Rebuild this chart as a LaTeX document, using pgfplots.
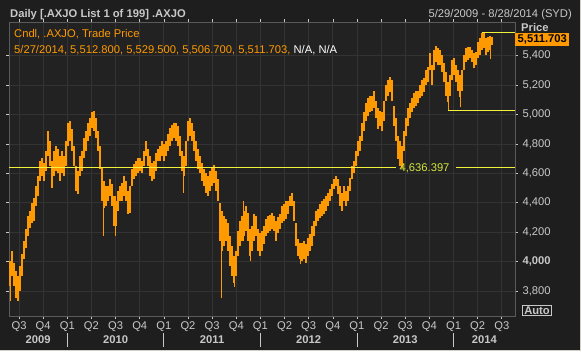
\documentclass[border=0pt]{standalone}
\usepackage{pgfplots}
\pgfplotsset{compat=1.18}
\usepackage{pgfplotstable}
\usepackage{fontspec}
\setmainfont{Liberation Sans}
\definecolor{bgout}{HTML}{1E1E1E}
\definecolor{bgplot}{HTML}{222222}
\definecolor{gridc}{HTML}{333333}
\definecolor{gridy}{HTML}{3E3E3E}
\definecolor{framec}{HTML}{5A5A5A}
\definecolor{candle}{HTML}{FF9900}
\definecolor{txt}{HTML}{C8C8C8}
\definecolor{hl}{HTML}{F2F23A}
\definecolor{hltext}{HTML}{D2E63C}
\definecolor{edge}{HTML}{D0D0C4}
\newcommand\f{\fontsize{11.2bp}{13bp}\selectfont}

\pgfplotstableread{
t lo hi
2009.406 3834 4005
2009.427 3902 4073
2009.448 3834 3991
2009.469 3752 3936
2009.489 3732 3902
2009.510 3800 3970
2009.531 3902 4052
2009.552 4018 4141
2009.572 4093 4223
2009.593 4175 4311
2009.614 4230 4345
2009.635 4264 4400
2009.655 4277 4434
2009.676 4379 4516
2009.697 4448 4584
2009.717 4550 4686
2009.738 4584 4707
2009.759 4550 4673
2009.780 4618 4754
2009.800 4720 4891
2009.821 4652 4823
2009.842 4502 4686
2009.863 4584 4754
2009.883 4618 4789
2009.904 4604 4768
2009.925 4550 4720
2009.945 4604 4754
2009.966 4584 4720
2009.987 4652 4823
2010.007 4789 4945
2010.028 4823 4959
2010.049 4754 4904
2010.070 4652 4789
2010.090 4482 4652
2010.111 4461 4618
2010.132 4584 4720
2010.152 4618 4754
2010.173 4707 4843
2010.194 4754 4891
2010.214 4823 4945
2010.235 4857 4979
2010.256 4911 5014
2010.277 4891 5027
2010.297 4843 4979
2010.318 4754 4891
2010.339 4632 4789
2010.359 4414 4639
2010.380 4366 4550
2010.401 4379 4516
2010.421 4414 4516
2010.443 4448 4564
2010.463 4379 4529
2010.484 4243 4448
2010.505 4243 4414
2010.525 4345 4482
2010.546 4414 4516
2010.567 4414 4536
2010.587 4448 4584
2010.608 4414 4550
2010.629 4325 4482
2010.650 4332 4516
2010.670 4516 4632
2010.691 4564 4666
2010.712 4584 4686
2010.732 4604 4707
2010.753 4618 4707
2010.774 4604 4686
2010.794 4652 4754
2010.815 4720 4823
2010.836 4652 4768
2010.857 4584 4720
2010.878 4550 4673
2010.898 4564 4686
2010.919 4618 4741
2010.940 4686 4768
2010.960 4686 4789
2010.981 4720 4823
2011.002 4686 4802
2011.022 4720 4823
2011.043 4754 4870
2011.064 4789 4911
2011.085 4823 4932
2011.105 4843 4945
2011.126 4823 4945
2011.147 4789 4925
2011.167 4720 4857
2011.188 4618 4754
2011.209 4584 4720
2011.229 4652 4823
2011.250 4823 4959
2011.272 4857 4979
2011.292 4823 4945
2011.313 4754 4891
2011.334 4686 4823
2011.354 4632 4768
2011.375 4604 4720
2011.396 4550 4673
2011.416 4516 4632
2011.437 4468 4604
2011.458 4448 4584
2011.479 4482 4618
2011.499 4516 4645
2011.520 4536 4659
2011.541 4482 4618
2011.561 4414 4564
2011.582 4141 4400
2011.603 4073 4345
2011.624 4107 4311
2011.644 4141 4291
2011.665 4073 4264
2011.686 3970 4175
2011.706 3902 4107
2011.727 3855 4039
2011.748 3902 4073
2011.769 4039 4209
2011.789 4107 4277
2011.810 4141 4311
2011.831 4175 4345
2011.851 4209 4379
2011.872 4141 4332
2011.893 4039 4223
2011.914 4073 4243
2011.934 4141 4325
2011.955 4175 4311
2011.976 4073 4223
2011.996 4039 4195
2012.017 4073 4209
2012.038 4120 4243
2012.059 4175 4291
2012.079 4195 4311
2012.101 4209 4318
2012.121 4223 4332
2012.142 4209 4311
2012.163 4141 4277
2012.183 4195 4304
2012.204 4223 4325
2012.225 4264 4379
2012.246 4277 4393
2012.266 4291 4414
2012.287 4325 4414
2012.308 4379 4448
2012.329 4379 4468
2012.349 4277 4414
2012.370 4107 4264
2012.391 4039 4155
2012.411 4018 4127
2012.432 4005 4127
2012.453 4018 4141
2012.474 3991 4120
2012.494 4039 4161
2012.515 4073 4189
2012.536 4107 4243
2012.556 4175 4277
2012.577 4243 4345
2012.598 4277 4359
2012.619 4298 4393
2012.639 4311 4414
2012.660 4325 4427
2012.681 4345 4448
2012.701 4379 4468
2012.722 4414 4495
2012.743 4448 4529
2012.764 4495 4564
2012.784 4516 4584
2012.805 4461 4564
2012.826 4379 4516
2012.846 4345 4468
2012.867 4414 4516
2012.888 4379 4482
2012.909 4414 4516
2012.930 4482 4570
2012.950 4564 4652
2012.971 4604 4686
2012.992 4652 4754
2013.012 4720 4823
2013.033 4754 4857
2013.054 4823 4945
2013.075 4891 5014
2013.095 4959 5075
2013.116 4993 5109
2013.137 5014 5129
2013.158 5027 5129
2013.178 5041 5157
2013.199 4973 5095
2013.220 4904 5041
2013.240 4925 5027
2013.261 4891 5014
2013.282 4959 5095
2013.302 5095 5198
2013.323 5129 5232
2013.344 5150 5252
2013.365 5095 5232
2013.385 4925 5061
2013.406 4823 4973
2013.427 4700 4857
2013.448 4652 4823
2013.468 4636 4789
2013.489 4754 4891
2013.510 4857 4973
2013.530 4925 5041
2013.552 4973 5075
2013.572 5014 5109
2013.593 5041 5143
2013.614 5061 5163
2013.634 5075 5163
2013.655 5109 5198
2013.676 5129 5232
2013.696 5150 5245
2013.717 5198 5300
2013.738 5218 5320
2013.759 5300 5416
2013.779 5198 5334
2013.800 5300 5436
2013.821 5354 5463
2013.841 5334 5450
2013.862 5334 5436
2013.883 5286 5402
2013.903 5218 5347
2013.924 5129 5286
2013.945 5082 5218
2013.966 5129 5266
2013.987 5232 5368
2014.007 5266 5382
2014.028 5218 5334
2014.049 5163 5300
2014.070 5116 5266
2014.090 5163 5300
2014.111 5300 5402
2014.132 5354 5450
2014.152 5368 5457
2014.173 5382 5457
2014.194 5354 5436
2014.215 5313 5416
2014.235 5334 5422
2014.256 5382 5491
2014.277 5402 5518
2014.297 5436 5557
2014.318 5450 5552
2014.339 5402 5518
2014.360 5422 5525
2014.380 5436 5532
2014.401 5470 5530
}\candles

\pgfplotstableread{
t lo hi
2009.406 3732 3900
2010.370 4175 4550
2010.494 4175 4448
2011.199 4468 4720
2011.593 3752 4300
2011.728 3827 4039
2011.821 4141 4414
2011.893 4005 4223
2012.412 3984 4127
2013.945 5027 5218
2014.070 5048 5266
2014.380 5375 5532
}\wicks

\begin{document}
\begin{tikzpicture}[x=1bp,y=1bp]
\useasboundingbox (0,0) rectangle (581,351);
\fill[bgout] (0,0) rectangle (581,351);
\draw[edge, line width=1bp] (580.5,0) -- (580.5,351);
\draw[edge, line width=1bp] (0,0.5) -- (581,0.5);
\begin{axis}[
  at={(9bp,35bp)}, anchor=south west,
  width=506bp, height=294bp, scale only axis,
  xmin=2009.396, xmax=2014.637, ymin=3630, ymax=5629,
  clip=false,
  axis background/.style={fill=bgplot},
  axis line style={framec, line width=0.8bp},
  xtick={2009.5,2009.75,2010,2010.25,2010.5,2010.75,2011,2011.25,2011.5,2011.75,2012,2012.25,2012.5,2012.75,2013,2013.25,2013.5,2013.75,2014,2014.25,2014.5},
  xticklabels={Q3,Q4,Q1,Q2,Q3,Q4,Q1,Q2,Q3,Q4,Q1,Q2,Q3,Q4,Q1,Q2,Q3,Q4,Q1,Q2,Q3},
  extra x ticks={2010,2011,2012,2013,2014},
  extra x tick labels={},
  extra x tick style={grid style={gridy, line width=1.6bp}, major tick length=0pt},
  ytick={3800,4000,4200,4400,4600,4800,5000,5200,5400},
  yticklabels={{3,800},{\textbf{4,000}},{4,200},{4,400},{4,600},{4,800},{5,000},{5,200},{5,400}},
  yticklabel pos=right,
  xmajorgrids, ymajorgrids,
  major grid style={gridc, line width=0.8bp},
  tick align=outside,
  major tick length=3bp,
  tick style={txt, line width=0.6bp},
  tick label style={font=\f, text=txt},
  xticklabel style={yshift=1bp},
  yticklabel style={xshift=1bp},
]
\addplot[draw=none, mark=none, forget plot,
  error bars/.cd, y dir=plus, y explicit, error mark=none,
  error bar style={draw=candle, line width=1.8bp}]
  table[x=t, y=lo, y error plus expr=\thisrow{hi}-\thisrow{lo}] {\candles};
\addplot[draw=none, mark=none, forget plot,
  error bars/.cd, y dir=plus, y explicit, error mark=none,
  error bar style={draw=candle, line width=0.9bp}]
  table[x=t, y=lo, y error plus expr=\thisrow{hi}-\thisrow{lo}] {\wicks};

% reference lines
\draw[hl, line width=1bp] (axis cs:2009.396,4636.397) -- (axis cs:2013.406,4636.397);
\node[hltext, anchor=west, font=\f, inner sep=0pt] at (axis cs:2013.44,4636.397) {4,636.397};
\draw[hl, line width=1bp] (axis cs:2014.028,4636.397) -- (axis cs:2014.637,4636.397);
\draw[hl, line width=1bp] (axis cs:2013.945,5027) -- (axis cs:2014.637,5027);
\draw[hl, line width=1bp] (axis cs:2014.297,5557) -- (axis cs:2014.637,5557);
\node[fill=candle, text=black, font=\f\bfseries, anchor=west, inner xsep=2.5bp, inner ysep=1bp, minimum height=13bp] at (axis cs:2014.637,5511.7) {5,511.703};

% year separators and labels
\draw[txt, line width=0.8bp] ([yshift=-17bp]axis cs:2010,3630) -- ([yshift=-31bp]axis cs:2010,3630);
\draw[txt, line width=0.8bp] ([yshift=-17bp]axis cs:2011,3630) -- ([yshift=-31bp]axis cs:2011,3630);
\draw[txt, line width=0.8bp] ([yshift=-17bp]axis cs:2012,3630) -- ([yshift=-31bp]axis cs:2012,3630);
\draw[txt, line width=0.8bp] ([yshift=-17bp]axis cs:2013,3630) -- ([yshift=-31bp]axis cs:2013,3630);
\draw[txt, line width=0.8bp] ([yshift=-17bp]axis cs:2014,3630) -- ([yshift=-31bp]axis cs:2014,3630);
\node[font=\f\bfseries, text=txt] at ([yshift=-24bp]axis cs:2009.697,3630) {2009};
\node[font=\f\bfseries, text=txt] at ([yshift=-24bp]axis cs:2010.5,3630) {2010};
\node[font=\f\bfseries, text=txt] at ([yshift=-24bp]axis cs:2011.5,3630) {2011};
\node[font=\f\bfseries, text=txt] at ([yshift=-24bp]axis cs:2012.5,3630) {2012};
\node[font=\f\bfseries, text=txt] at ([yshift=-24bp]axis cs:2013.5,3630) {2013};
\node[font=\f\bfseries, text=txt] at ([yshift=-24bp]axis cs:2014.32,3630) {2014};
\end{axis}

% header texts
\node[anchor=base west, font=\f\bfseries, text=txt, inner sep=0pt] at (10,333.5) {Daily [.AXJO List 1 of 199] .AXJO};
\node[anchor=base east, font=\f, text=txt, inner sep=0pt] at (572,333.5) {5/29/2009 - 8/28/2014 (SYD)};
\node[anchor=base west, font=\f, text=candle, inner sep=0pt] at (14,313.5) {Cndl, .AXJO, Trade Price};
\node[anchor=base west, font=\f, inner sep=0pt] at (14,298) {\textcolor{candle}{5/27/2014, 5,512.800, 5,529.500, 5,506.700, 5,511.703,} \textcolor{white}{N/A, N/A}};
\node[anchor=base west, font=\f\bfseries, text=txt, inner sep=0pt] at (521,319.5) {Price};
\node[draw=txt, line width=0.8bp, font=\f\bfseries, text=txt, inner xsep=1.5bp, inner ysep=1bp] at (537,40.5) {Auto};
\end{tikzpicture}
\end{document}
